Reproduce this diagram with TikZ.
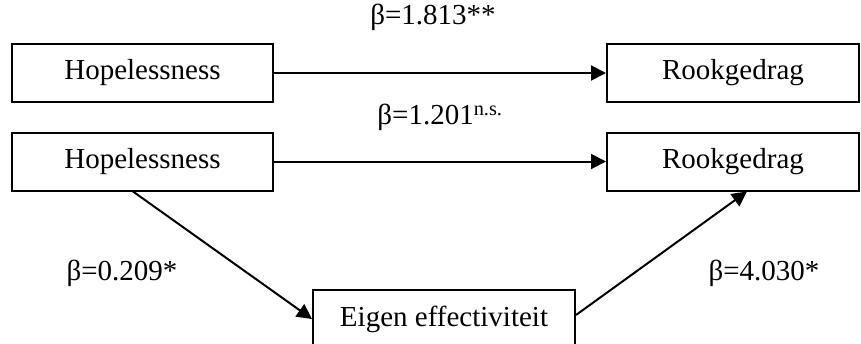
\documentclass[tikz,border=0pt]{standalone}
\usepackage{fontspec}
\setmainfont{Liberation Serif}
\usetikzlibrary{arrows.meta}
\begin{document}
\begin{tikzpicture}[x=1pt,y=-1pt,
  box/.style={draw,line width=2pt,minimum height=58pt,inner sep=0pt,font=\fontsize{29}{34}\selectfont},
  lbl/.style={font=\fontsize{29}{34}\selectfont,inner sep=0pt},
  arr/.style={line width=2pt,-{Triangle[length=15pt,width=15pt]}}]
\clip (0,0) rectangle (861,343);
\node[box,minimum width=261pt] (h1) at (142.5,73) {Hopelessness};
\node[box,minimum width=252pt] (r1) at (733,73) {Rookgedrag};
\node[box,minimum width=261pt] (h2) at (142.5,161.5) {Hopelessness};
\node[box,minimum width=252pt] (r2) at (733,161.5) {Rookgedrag};
\node[box,minimum width=262pt] (e) at (444,319) {Eigen effectiviteit};
\draw[arr] (h1) -- (r1);
\draw[arr] (h2) -- (r2);
\draw[arr] ([xshift=-9.5pt]h2.south) -- (e.west);
\draw[arr] ([yshift=4pt]e.east) -- ([xshift=14pt]r2.south);
\node[lbl] (l1) at (433,17) {β=1.813**};
\node[lbl] (l2) at (440,117) {β=1.201\textsuperscript{n.s.}};
\node[lbl] (l3) at (122,273) {β=0.209*};
\node[lbl] (l4) at (764,273) {β=4.030*};
\end{tikzpicture}
\end{document}
